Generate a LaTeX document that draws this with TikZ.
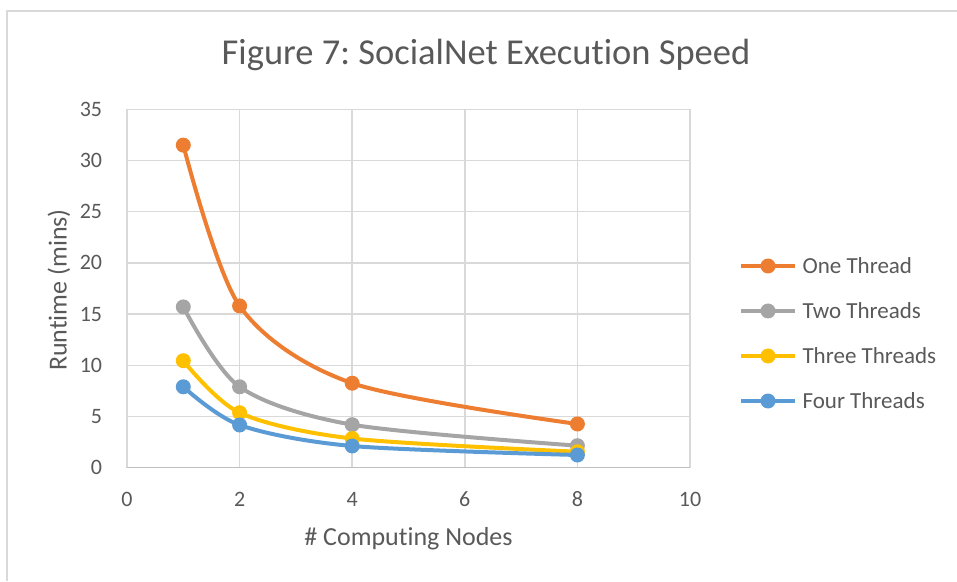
\documentclass[tikz,border=0pt]{standalone}
\usepackage{fontspec}
\setmainfont{Carlito}[Ligatures=NoCommon]
\frenchspacing
\definecolor{txt}{HTML}{595959}
\definecolor{gridc}{HTML}{D9D9D9}
\definecolor{axisc}{HTML}{BFBFBF}
\definecolor{one}{HTML}{ED7D31}
\definecolor{two}{HTML}{A5A5A5}
\definecolor{three}{HTML}{FFC000}
\definecolor{four}{HTML}{5B9BD5}
\tikzset{
  series/.style={line width=4pt, line join=round, line cap=round, smooth, tension=0.5},
  dot/.style={circle, fill=#1, inner sep=0pt, minimum size=15pt},
  ticklabel/.style={text=txt, font=\fontsize{22}{22}\selectfont},
  legendlabel/.style={text=txt, anchor=west, font=\fontsize{23}{23}\selectfont},
}

\begin{document}
\begin{tikzpicture}[x=1pt, y=1pt]
\useasboundingbox (0,0) rectangle (957,581);
%chart frame
\draw[gridc, line width=1.5pt] (7,0) -- (7,570) -- (957,570);
%title
\node[text=txt, font=\fontsize{36.5}{36.5}\selectfont] (title) at (486,526) {Figure 7: SocialNet Execution Speed};
\begin{scope}[shift={(127,113.3)}, x=56.3pt, y=10.24pt]
%grid
\foreach \x in {0,2,...,10} \draw[gridc, line width=1.5pt] (\x,0) -- (\x,35);
\foreach \y in {5,10,...,35} \draw[gridc, line width=1.5pt] (0,\y) -- (10,\y);
\draw[axisc, line width=1.5pt] (0,0) -- (10,0);
%tick labels
\foreach \x in {0,2,...,10} \node[ticklabel] (xt\x) at (\x,-3.1) {\x};
\foreach \y in {0,5,...,35} \node[ticklabel, anchor=east] (yt\y) at (-0.38,\y) {\y};
%axis titles
\node[text=txt, font=\fontsize{26}{26}\selectfont] (xtitle) at (5,-6.9) {\# Computing Nodes};
\node[text=txt, font=\fontsize{26}{26}\selectfont, rotate=90] (ytitle) at (-1.21,17.35) {Runtime (mins)};
%one thread
\draw[series, one] plot coordinates {(1,31.5) (2,15.8) (4,8.25) (8,4.27)};
\foreach \x/\y in {1/31.5, 2/15.8, 4/8.25, 8/4.27} \node[dot=one] (one\x) at (\x,\y) {};
%two threads
\draw[series, two] plot coordinates {(1,15.7) (2,7.9) (4,4.2) (8,2.15)};
\foreach \x/\y in {1/15.7, 2/7.9, 4/4.2, 8/2.15} \node[dot=two] (two\x) at (\x,\y) {};
%three threads
\draw[series, three] plot coordinates {(1,10.45) (2,5.37) (4,2.85) (8,1.56)};
\foreach \x/\y in {1/10.45, 2/5.37, 4/2.85, 8/1.56} \node[dot=three] (three\x) at (\x,\y) {};
%four threads
\draw[series, four] plot coordinates {(1,7.9) (2,4.17) (4,2.12) (8,1.24)};
\foreach \x/\y in {1/7.9, 2/4.17, 4/2.12, 8/1.24} \node[dot=four] (four\x) at (\x,\y) {};
\end{scope}
%legend
\foreach \c/\t/\y in {one/One Thread/315, two/Two Threads/270, three/Three Threads/225, four/Four Threads/180} {
  \coordinate (\c a) at (741,\y);
  \coordinate (\c b) at (795,\y);
  \draw[\c, line width=4pt] (\c a) -- (\c b);
  \node[dot=\c] (\c m) at (768,\y) {};
  \node[legendlabel] (\c t) at (799,\y) {\t};
}
\end{tikzpicture}
\end{document}
